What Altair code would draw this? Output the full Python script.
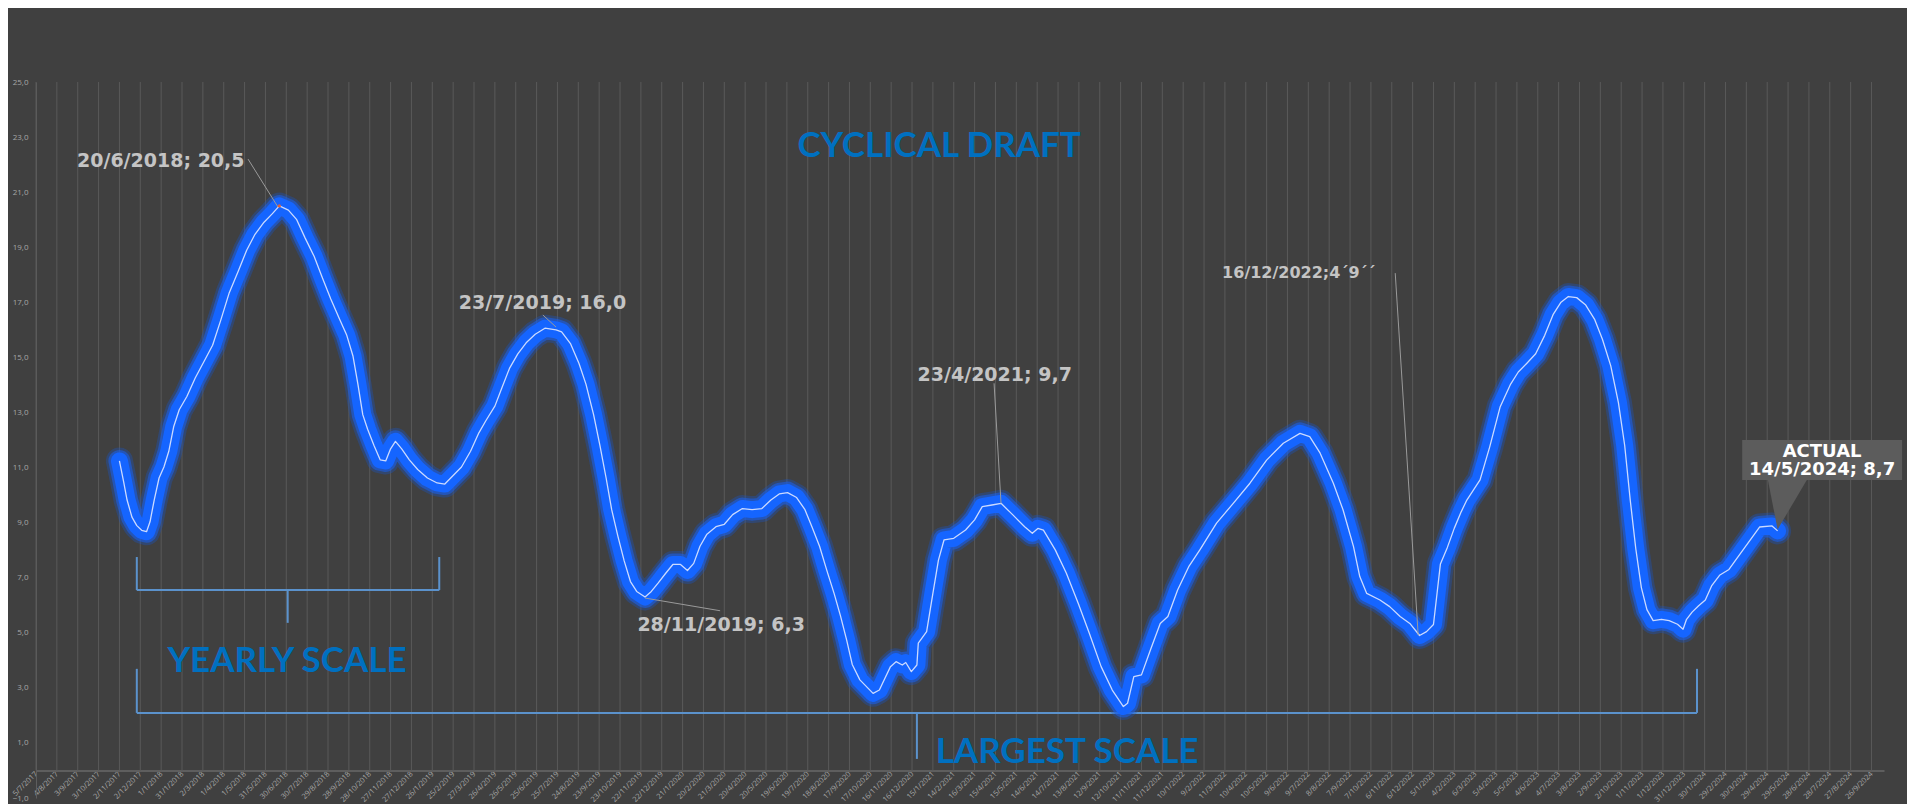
import altair as alt
import pandas as pd

# ---------------- data ----------------
START = pd.Timestamp("2017-07-05")          # first category of the x axis (5/7/2017)
AXIS_END_DAYS = 2658                         # right end of the x axis (days after START)

# x position of every reading, in days after 5/7/2017
day_offsets = [
    120, 126, 131, 138, 145, 152, 159, 164, 170, 177, 184, 191, 198, 206, 217, 229, 242, 254,
    266, 278, 291, 303, 315, 328, 340, 350, 363, 375, 387, 400, 412, 424, 437, 447, 456, 463,
    470, 477, 486, 495, 503, 510, 517, 526, 537, 549, 563, 577, 588, 600, 612, 625, 637, 647,
    660, 670, 681, 693, 705, 718, 732, 748, 756, 769, 781, 791, 802, 811, 820, 828, 837, 846,
    855, 864, 876, 885, 895, 906, 916, 927, 937, 946, 955, 965, 978, 990, 1002, 1016, 1030, 1044,
    1057, 1069, 1081, 1094, 1106, 1116, 1127, 1137, 1148, 1157, 1166, 1174, 1185, 1204, 1213, 1229, 1237, 1246,
    1251, 1259, 1267, 1269, 1281, 1290, 1298, 1306, 1320, 1337, 1350, 1361, 1375, 1388, 1405, 1422, 1433, 1441,
    1449, 1466, 1482, 1499, 1515, 1532, 1548, 1564, 1570, 1579, 1590, 1603, 1617, 1628, 1642, 1658, 1674, 1698,
    1722, 1746, 1770, 1794, 1818, 1832, 1847, 1866, 1880, 1895, 1904, 1914, 1933, 1947, 1962, 1976, 1990, 2000,
    2010, 2015, 2020, 2030, 2040, 2050, 2058, 2077, 2091, 2106, 2121, 2132, 2144, 2157, 2170, 2182, 2193, 2204,
    2216, 2229, 2242, 2253, 2265, 2276, 2285, 2293, 2301, 2309, 2317, 2326, 2338, 2349, 2361, 2369, 2374, 2382,
    2391, 2401, 2410, 2422, 2435, 2455, 2479, 2497, 2505,
]
draft_values = [
    11.24, 10.49, 9.82, 9.20, 8.89, 8.72, 8.67, 9.03, 9.82, 10.62, 11.02, 11.59, 12.48, 13.10, 13.58, 14.25, 14.87, 15.44,
    16.37, 17.35, 18.14, 18.89, 19.47, 19.91, 20.22, 20.50, 20.35, 20.00, 19.34, 18.67, 17.88, 17.12, 16.37, 15.80, 15.04, 14.03,
    12.92, 12.39, 11.81, 11.28, 11.24, 11.68, 11.95, 11.68, 11.28, 10.93, 10.62, 10.44, 10.40, 10.71, 11.02, 11.59, 12.26, 12.70,
    13.23, 13.89, 14.60, 15.13, 15.53, 15.84, 16.06, 16.00, 15.93, 15.49, 14.78, 14.03, 12.92, 11.81, 10.62, 9.47, 8.50, 7.61,
    6.86, 6.50, 6.30, 6.50, 6.81, 7.17, 7.48, 7.48, 7.26, 7.52, 8.14, 8.58, 8.85, 8.94, 9.29, 9.51, 9.47, 9.51,
    9.82, 10.04, 10.09, 9.91, 9.47, 8.85, 8.14, 7.30, 6.42, 5.62, 4.73, 3.85, 3.29, 2.80, 2.92, 3.77, 3.95, 3.83,
    3.92, 3.59, 3.83, 4.62, 5.04, 6.43, 7.64, 8.37, 8.43, 8.73, 9.10, 9.58, 9.64, 9.70, 9.28, 8.85, 8.61, 8.79,
    8.73, 8.01, 7.16, 6.07, 4.98, 3.77, 2.92, 2.32, 2.44, 3.41, 3.47, 4.38, 5.34, 5.59, 6.55, 7.40, 8.01, 8.98,
    9.70, 10.43, 11.27, 11.88, 12.24, 12.12, 11.52, 10.43, 9.46, 8.13, 7.04, 6.43, 6.19, 5.95, 5.59, 5.34, 4.90, 5.04,
    5.30, 6.40, 7.50, 8.10, 8.80, 9.40, 9.82, 10.55, 11.76, 13.21, 14.03, 14.47, 14.78, 15.13, 15.80, 16.55, 16.99, 17.21,
    17.17, 16.90, 16.37, 15.66, 14.69, 13.36, 11.81, 9.82, 8.05, 6.64, 5.84, 5.44, 5.49, 5.44, 5.31, 5.13, 5.49, 5.75,
    5.97, 6.19, 6.70, 7.10, 7.30, 8.00, 8.84, 8.88, 8.70,
]
assert len(day_offsets) == len(draft_values)

# x axis categories: one every 30 days, 5/7/2017 ... 26/9/2024
tick_offsets = list(range(0, 2641, 30))
y_tick_values = list(range(-1, 26, 2))

# annotations (anchored in data units: days after START, draft value)
label_texts = ["20/6/2018; 20,5", "23/7/2019; 16,0", "23/4/2021; 9,7", "28/11/2019; 6,3"]
label_days = [59, 608, 1268, 865]
label_vals = [21.92, 16.76, 14.16, 5.07]

note_text = ["16/12/2022;4´9´´"]
note_days = [1706]
note_vals = [17.87]

leader_x1 = [305, 729, 1378, 876, 1955]
leader_x2 = [348, 748, 1388, 984, 1988]
leader_y1 = [22.2, 16.54, 14.06, 6.26, 18.06]
leader_y2 = [20.46, 16.10, 9.70, 5.80, 4.92]

callout_lines = ["ACTUAL", "14/5/2024; 8,7"]
callout_vals = [11.39, 10.72]
callout_center_day = 2569
callout_box_days = [2454, 2684]
callout_box_vals = [10.55, 12.0]
pointer_days = [2491, 2505, 2547]
pointer_low = [10.55, 8.75, 10.55]

# brackets: [left, centre, right] days, [top of ends, bar, bottom of centre tick]
yearly_days = [145, 362, 580]
yearly_vals = [7.75, 6.55, 5.36]
largest_days = [145, 1267, 2389]
largest_vals = [3.69, 2.09, 0.42]

big_texts = ["CYCLICAL DRAFT", "YEARLY SCALE", "LARGEST SCALE"]
big_days = [1299, 361, 1483]
big_vals = [22.28, 3.58, 0.27]


# ---------------- helpers ----------------
def ms(d):
    return int((START + pd.Timedelta(days=float(d))).value // 10**6)


BG = "#404040"
BLUE_TXT = "#0070C0"
BRACKET = "#5b92cc"
LABEL_GREY = "#c4c4c4"

x_scale = alt.Scale(type="utc", domain=[ms(0), ms(AXIS_END_DAYS)])
y_scale = alt.Scale(domain=[-1, 25], nice=False, zero=False)

x_axis = alt.Axis(
    values=[ms(d) for d in tick_offsets],
    labelExpr="utcFormat(datum.value, '%-d/%-m/%Y')",
    labelAngle=-45, labelAlign="right", labelBaseline="middle",
    labelFont="Open Sans", labelFontSize=7.5, labelColor="#a6a6a6", labelPadding=2,
    labelOverlap=False, labelFlush=False, labelBound=False,
    ticks=False, grid=False, domainColor="#5e5e5e", domainWidth=2,
    offset=-27.5, title=None,
)
y_axis = alt.Axis(
    values=y_tick_values,
    labelExpr="replace(format(datum.value, '.1f'), '.', ',')",
    labelFont="Open Sans", labelFontSize=8, labelColor="#a6a6a6", labelPadding=8,
    labelOverlap=False, labelFlush=False,
    ticks=False, grid=False, domainColor="#5e5e5e", domainWidth=1, title=None,
)


def X(field):
    return alt.X(field, type="temporal", scale=x_scale, axis=x_axis)


def Y(field):
    return alt.Y(field, type="quantitative", scale=y_scale, axis=y_axis)


series = pd.DataFrame({"t": [ms(d) for d in day_offsets], "v": draft_values})
ticks = pd.DataFrame({"t": [ms(d) for d in tick_offsets], "y0": 0, "y1": 25})

# vertical grid lines (stop at the 0 line like the reference)
grid = alt.Chart(ticks).mark_rule(color="#595959", strokeWidth=1).encode(
    x=X("t"), y=Y("y0"), y2="y1:Q",
)

base = alt.Chart(series).encode(x=X("t"), y=Y("v"))
glow1 = base.mark_line(color="#1b55c8", strokeWidth=27, opacity=0.35, strokeCap="round", strokeJoin="round")
glow2 = base.mark_line(color="#1a5fe8", strokeWidth=22, opacity=0.6, strokeCap="round", strokeJoin="round")
core = base.mark_line(color="#1565ff", strokeWidth=17, strokeCap="round", strokeJoin="round")
inner = base.mark_line(color="#dfe7ff", strokeWidth=1.3, opacity=0.9, strokeJoin="round")


# brackets
def bracket_df(days, vals):
    l, c, r = days
    top, bar, bottom = vals
    return pd.DataFrame({
        "x1": [ms(l), ms(l), ms(r), ms(c)],
        "x2": [ms(r), ms(l), ms(r), ms(c)],
        "y1": [bar, top, top, bar],
        "y2": [bar, bar, bar, bottom],
    })


brackets = pd.concat([bracket_df(yearly_days, yearly_vals), bracket_df(largest_days, largest_vals)])
bracket_layer = alt.Chart(brackets).mark_rule(color=BRACKET, strokeWidth=2).encode(
    x=X("x1"), x2="x2:T", y=Y("y1"), y2="y2:Q",
)

leaders = pd.DataFrame({
    "x1": [ms(d) for d in leader_x1], "x2": [ms(d) for d in leader_x2],
    "y1": leader_y1, "y2": leader_y2,
})
leader_layer = alt.Chart(leaders).mark_rule(color="#9a9a9a", strokeWidth=1).encode(
    x=X("x1"), x2="x2:T", y=Y("y1"), y2="y2:Q",
)

peak_dot = alt.Chart(pd.DataFrame({"t": [ms(350)], "v": [20.5]})).mark_circle(
    color="#e0603c", size=10, opacity=1
).encode(x=X("t"), y=Y("v"))

labels = pd.DataFrame({"t": [ms(d) for d in label_days], "v": label_vals, "txt": label_texts})
label_layer = alt.Chart(labels).mark_text(
    font="DejaVu Sans", fontWeight="bold", fontSize=19, color=LABEL_GREY, align="left", baseline="alphabetic"
).encode(x=X("t"), y=Y("v"), text="txt:N")

notes = pd.DataFrame({"t": [ms(d) for d in note_days], "v": note_vals, "txt": note_text})
note_layer = alt.Chart(notes).mark_text(
    font="DejaVu Sans", fontWeight="bold", fontSize=16, color=LABEL_GREY, align="left", baseline="alphabetic"
).encode(x=X("t"), y=Y("v"), text="txt:N")

# callout box for the actual value
box = pd.DataFrame({"x1": [ms(callout_box_days[0])], "x2": [ms(callout_box_days[1])],
                    "y1": [callout_box_vals[0]], "y2": [callout_box_vals[1]]})
box_layer = alt.Chart(box).mark_rect(color="#5c5c5c").encode(
    x=X("x1"), x2="x2:T", y=Y("y1"), y2="y2:Q",
)
pointer = pd.DataFrame({"t": [ms(d) for d in pointer_days], "lo": pointer_low,
                        "hi": [callout_box_vals[0]] * 3})
pointer_layer = alt.Chart(pointer).mark_area(color="#5c5c5c").encode(
    x=X("t"), y=Y("lo"), y2="hi:Q",
)
callout = pd.DataFrame({"t": [ms(callout_center_day)] * 2, "v": callout_vals, "txt": callout_lines})
callout_text = alt.Chart(callout).mark_text(
    font="DejaVu Sans", fontWeight="bold", fontSize=18, color="#ffffff", align="center", baseline="alphabetic"
).encode(x=X("t"), y=Y("v"), text="txt:N")

big = pd.DataFrame({"t": [ms(d) for d in big_days], "v": big_vals, "txt": big_texts})
big_layer = alt.Chart(big).mark_text(
    font="Lato", fontWeight="bold", fontSize=35, color=BLUE_TXT, align="center", baseline="alphabetic"
).encode(x=X("t"), y=Y("v"), text="txt:N")

chart = alt.layer(
    grid, bracket_layer, glow1, glow2, core, inner, leader_layer, peak_dot,
    label_layer, note_layer, box_layer, pointer_layer, callout_text, big_layer,
).properties(
    width=1848, height=716,
    autosize=alt.AutoSizeParams(type="none"),
    padding={"left": 28, "top": 74, "right": 23, "bottom": 6},
    background=BG,
).configure_view(stroke=None)

chart.save("out.html", embed_options={"renderer": "svg", "actions": False})
